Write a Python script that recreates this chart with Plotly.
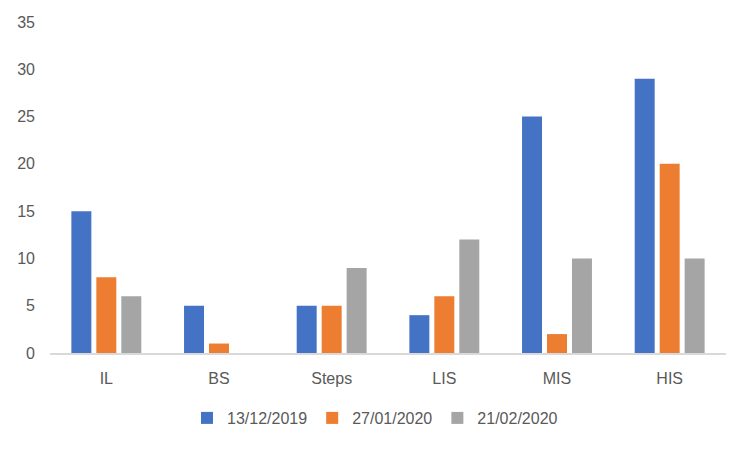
import plotly.graph_objects as go

categories = ["IL", "BS", "Steps", "LIS", "MIS", "HIS"]
series_names = ["13/12/2019", "27/01/2020", "21/02/2020"]
s1 = [15, 5, 5, 4, 25, 29]
s2 = [8, 1, 5, 6, 2, 20]
s3 = [6, 0, 9, 12, 10, 10]
colors = ["#4472C4", "#ED7D31", "#A5A5A5"]
y_ticks = [0, 5, 10, 15, 20, 25, 30, 35]

fig = go.Figure()
for name, vals, c in zip(series_names, [s1, s2, s3], colors):
    fig.add_trace(go.Bar(x=categories, y=vals, name=name, marker_color=c,
                         marker_line_width=0))

font = dict(family="Liberation Sans, Arial, sans-serif", size=16, color="#595959")
fig.update_layout(
    width=749, height=450,
    margin=dict(l=42, r=31, t=14, b=105, autoexpand=False),
    paper_bgcolor="white", plot_bgcolor="white",
    barmode="group", bargap=0.335, bargroupgap=0.2,
    font=font,
    showlegend=True,
    legend=dict(orientation="h", x=0.49, xanchor="center", xref="container",
                y=1 - 410 / 450, yanchor="middle", yref="container",
                font=font, itemwidth=30),
    xaxis=dict(showgrid=False, showline=True, linecolor="#D9D9D9", linewidth=2,
               ticks="", tickfont=font, ticklabelstandoff=10, automargin=False),
    yaxis=dict(range=[0, 35], tickvals=y_ticks, showgrid=False, zeroline=False,
               showline=False, ticks="", tickfont=font, ticklabelstandoff=14,
               automargin=False),
)
fig.write_html("out.html")
